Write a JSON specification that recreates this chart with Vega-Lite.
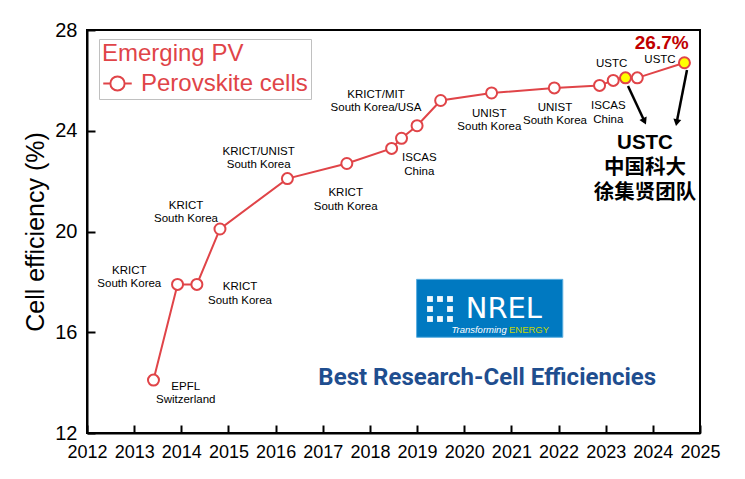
{
  "$schema": "https://vega.github.io/schema/vega-lite/v6.json",
  "width": 613,
  "height": 403,
  "autosize": "none",
  "padding": {"left": 87, "top": 30, "right": 45, "bottom": 46},
  "background": "white",
  "config": {
    "view": {"stroke": "black", "strokeWidth": 2},
    "font": "Liberation Sans",
    "axis": {
      "grid": false,
      "domainColor": "black",
      "domainWidth": 2,
      "tickColor": "black",
      "tickWidth": 2,
      "tickSize": -8,
      "labelColor": "black",
      "labelFont": "Liberation Sans",
      "titleFont": "Liberation Sans",
      "titleColor": "black",
      "titleFontWeight": "normal"
    },
    "legend": {
      "orient": "none",
      "legendX": 12,
      "legendY": 9,
      "padding": 3,
      "strokeColor": "#c0c0c0",
      "fillColor": "white",
      "titleFont": "Liberation Sans",
      "titleFontSize": 24,
      "titleFontWeight": "normal",
      "titleColor": "#e04448",
      "titlePadding": 2,
      "titleLimit": 0,
      "labelFont": "Liberation Sans",
      "labelFontSize": 24,
      "labelColor": "#e04448",
      "labelOffset": 8,
      "labelLimit": 0,
      "symbolType": "M-1,0L-0.5,0M0.5,0L1,0M-0.5,0A0.5,0.5,0,1,1,0.5,0A0.5,0.5,0,1,1,-0.5,0",
      "symbolSize": 812,
      "symbolStrokeWidth": 2,
      "symbolStrokeColor": "#e04448",
      "symbolFillColor": "white"
    }
  },
  "datasets": {
    "eff": [
      {"year": 2013.41, "eff": 14.1, "series": "Perovskite cells", "hl": "no"},
      {"year": 2013.92, "eff": 17.9, "series": "Perovskite cells", "hl": "no"},
      {"year": 2014.33, "eff": 17.9, "series": "Perovskite cells", "hl": "no"},
      {"year": 2014.82, "eff": 20.1, "series": "Perovskite cells", "hl": "no"},
      {"year": 2016.25, "eff": 22.1, "series": "Perovskite cells", "hl": "no"},
      {"year": 2017.51, "eff": 22.7, "series": "Perovskite cells", "hl": "no"},
      {"year": 2018.46, "eff": 23.3, "series": "Perovskite cells", "hl": "no"},
      {"year": 2018.67, "eff": 23.7, "series": "Perovskite cells", "hl": "no"},
      {"year": 2019.0, "eff": 24.2, "series": "Perovskite cells", "hl": "no"},
      {"year": 2019.5, "eff": 25.2, "series": "Perovskite cells", "hl": "no"},
      {"year": 2020.58, "eff": 25.5, "series": "Perovskite cells", "hl": "no"},
      {"year": 2021.91, "eff": 25.7, "series": "Perovskite cells", "hl": "no"},
      {"year": 2022.87, "eff": 25.8, "series": "Perovskite cells", "hl": "no"},
      {"year": 2023.16, "eff": 26.0, "series": "Perovskite cells", "hl": "no"},
      {"year": 2023.42, "eff": 26.1, "series": "Perovskite cells", "hl": "yes"},
      {"year": 2023.67, "eff": 26.1, "series": "Perovskite cells", "hl": "no"},
      {"year": 2024.67, "eff": 26.7, "series": "Perovskite cells", "hl": "yes"}
    ],
    "labels": [
      {"x": 2014.093, "y": 13.84, "text": "EPFL\nSwitzerland"},
      {"x": 2012.897, "y": 18.444, "text": "KRICT\nSouth Korea"},
      {"x": 2015.245, "y": 17.785, "text": "KRICT\nSouth Korea"},
      {"x": 2014.1, "y": 21.024, "text": "KRICT\nSouth Korea"},
      {"x": 2015.641, "y": 23.168, "text": "KRICT/UNIST\nSouth Korea"},
      {"x": 2017.486, "y": 21.517, "text": "KRICT\nSouth Korea"},
      {"x": 2018.129, "y": 25.419, "text": "KRICT/MIT\nSouth Korea/USA"},
      {"x": 2019.047, "y": 22.906, "text": "ISCAS\nChina"},
      {"x": 2020.532, "y": 24.665, "text": "UNIST\nSouth Korea"},
      {"x": 2021.925, "y": 24.903, "text": "UNIST\nSouth Korea"},
      {"x": 2023.055, "y": 24.971, "text": "ISCAS\nChina"},
      {"x": 2023.127, "y": 26.65, "text": "USTC"},
      {"x": 2024.152, "y": 26.81, "text": "USTC"}
    ],
    "arrows": [
      {"arrow": "a", "x": 2023.473, "y": 25.777, "x2": 2023.81, "y2": 24.428, "hx": 2023.823, "hy": 24.374},
      {"arrow": "b", "x": 2024.724, "y": 26.412, "x2": 2024.511, "y2": 24.384, "hx": 2024.505, "hy": 24.325}
    ],
    "icon": [
      {"x": 2019.274, "y": 17.32}, {"x": 2019.486, "y": 17.32}, {"x": 2019.698, "y": 17.32},
      {"x": 2019.274, "y": 16.923}, {"x": 2019.698, "y": 16.923},
      {"x": 2019.274, "y": 16.526}, {"x": 2019.486, "y": 16.526}, {"x": 2019.698, "y": 16.526}
    ]
  },
  "layer": [
    {
      "data": {"values": [{"x": 2018.99, "x2": 2022.09, "y": 18.1, "y2": 15.8}]},
      "mark": {"type": "rect", "fill": "#0079c1", "stroke": "#5aaee0", "strokeWidth": 1},
      "encoding": {
        "x": {"field": "x", "type": "quantitative", "scale": {"domain": [2012, 2025], "nice": false, "zero": false},
          "axis": {"values": [2012, 2013, 2014, 2015, 2016, 2017, 2018, 2019, 2020, 2021, 2022, 2023, 2024, 2025], "format": "d", "title": null, "labelFontSize": 18, "labelPadding": 18, "labelFlush": false}},
        "x2": {"field": "x2"},
        "y": {"field": "y", "type": "quantitative", "scale": {"domain": [12, 28], "nice": false, "zero": false},
          "axis": {"values": [12, 16, 20, 24, 28], "title": "Cell efficiency (%)", "titleFontSize": 25, "titlePadding": 6, "labelFontSize": 20, "labelPadding": 18, "labelFlush": false}},
        "y2": {"field": "y2"}
      }
    },
    {
      "data": {"name": "icon"},
      "mark": {"type": "point", "shape": "square", "filled": true, "fill": "white", "opacity": 0.95, "size": 34},
      "encoding": {
        "x": {"field": "x", "type": "quantitative"},
        "y": {"field": "y", "type": "quantitative"}
      }
    },
    {
      "data": {"values": [{"x": 2020.84, "y": 16.56, "text": "NREL"}]},
      "mark": {"type": "text", "font": "DejaVu Sans", "fontSize": 29, "color": "white", "align": "center", "baseline": "alphabetic"},
      "encoding": {
        "x": {"field": "x", "type": "quantitative"},
        "y": {"field": "y", "type": "quantitative"},
        "text": {"field": "text"}
      }
    },
    {
      "data": {"values": [{"x": 2020.9, "y": 15.99, "text": "Transforming"}]},
      "mark": {"type": "text", "font": "Liberation Sans", "fontSize": 9.5, "fontStyle": "italic", "color": "white", "align": "right", "baseline": "alphabetic"},
      "encoding": {
        "x": {"field": "x", "type": "quantitative"},
        "y": {"field": "y", "type": "quantitative"},
        "text": {"field": "text"}
      }
    },
    {
      "data": {"values": [{"x": 2020.949, "y": 15.99, "text": "ENERGY"}]},
      "mark": {"type": "text", "font": "Liberation Sans", "fontSize": 9.5, "color": "#c4d600", "align": "left", "baseline": "alphabetic"},
      "encoding": {
        "x": {"field": "x", "type": "quantitative"},
        "y": {"field": "y", "type": "quantitative"},
        "text": {"field": "text"}
      }
    },
    {
      "data": {"values": [{"x": 2020.487, "y": 13.906, "text": "Best Research-Cell Efficiencies"}]},
      "mark": {"type": "text", "font": "Roboto", "fontSize": 24, "fontWeight": "bold", "color": "#1f4e8f", "align": "center", "baseline": "alphabetic"},
      "encoding": {
        "x": {"field": "x", "type": "quantitative"},
        "y": {"field": "y", "type": "quantitative"},
        "text": {"field": "text"}
      }
    },
    {
      "data": {"name": "eff"},
      "mark": {"type": "line", "stroke": "#e04448", "strokeWidth": 2},
      "encoding": {
        "x": {"field": "year", "type": "quantitative"},
        "y": {"field": "eff", "type": "quantitative"}
      }
    },
    {
      "data": {"name": "eff"},
      "mark": {"type": "point", "shape": "circle", "size": 121, "strokeWidth": 2, "opacity": 1},
      "encoding": {
        "x": {"field": "year", "type": "quantitative"},
        "y": {"field": "eff", "type": "quantitative"},
        "stroke": {"field": "series", "type": "nominal", "scale": {"range": ["#e04448"]}, "legend": {"title": "Emerging PV"}},
        "fill": {"field": "hl", "type": "nominal", "scale": {"domain": ["no", "yes"], "range": ["white", "#ffff00"]}, "legend": null}
      }
    },
    {
      "data": {"name": "labels"},
      "mark": {"type": "text", "font": "Liberation Sans", "fontSize": 11.5, "color": "black", "align": "center", "baseline": "middle", "lineBreak": "\n", "lineHeight": 13.3},
      "encoding": {
        "x": {"field": "x", "type": "quantitative"},
        "y": {"field": "y", "type": "quantitative"},
        "text": {"field": "text"}
      }
    },
    {
      "data": {"name": "arrows"},
      "mark": {"type": "rule", "color": "black", "strokeWidth": 2.5},
      "encoding": {
        "x": {"field": "x", "type": "quantitative"},
        "y": {"field": "y", "type": "quantitative"},
        "x2": {"field": "x2"},
        "y2": {"field": "y2"}
      }
    },
    {
      "data": {"name": "arrows"},
      "transform": [{"filter": "datum.arrow == 'a'"}],
      "mark": {"type": "point", "shape": "triangle-up", "filled": true, "fill": "black", "opacity": 1, "size": 64, "angle": 155},
      "encoding": {
        "x": {"field": "hx", "type": "quantitative"},
        "y": {"field": "hy", "type": "quantitative"}
      }
    },
    {
      "data": {"name": "arrows"},
      "transform": [{"filter": "datum.arrow == 'b'"}],
      "mark": {"type": "point", "shape": "triangle-up", "filled": true, "fill": "black", "opacity": 1, "size": 64, "angle": 191},
      "encoding": {
        "x": {"field": "hx", "type": "quantitative"},
        "y": {"field": "hy", "type": "quantitative"}
      }
    },
    {
      "data": {"values": [{"x": 2024.188, "y": 27.49, "text": "26.7%"}]},
      "mark": {"type": "text", "font": "Liberation Sans", "fontSize": 19, "fontWeight": "bold", "color": "#c00000", "align": "center", "baseline": "middle"},
      "encoding": {
        "x": {"field": "x", "type": "quantitative"},
        "y": {"field": "y", "type": "quantitative"},
        "text": {"field": "text"}
      }
    },
    {
      "data": {"values": [
        {"x": 2023.834, "y": 23.526, "text": "USTC"},
        {"x": 2023.834, "y": 22.509, "text": "中国科大"},
        {"x": 2023.834, "y": 21.54, "text": "徐集贤团队"}
      ]},
      "mark": {"type": "text", "font": "Liberation Sans, Noto Sans CJK SC", "fontSize": 20.5, "fontWeight": "bold", "color": "black", "align": "center", "baseline": "middle"},
      "encoding": {
        "x": {"field": "x", "type": "quantitative"},
        "y": {"field": "y", "type": "quantitative"},
        "text": {"field": "text"}
      }
    }
  ]
}
